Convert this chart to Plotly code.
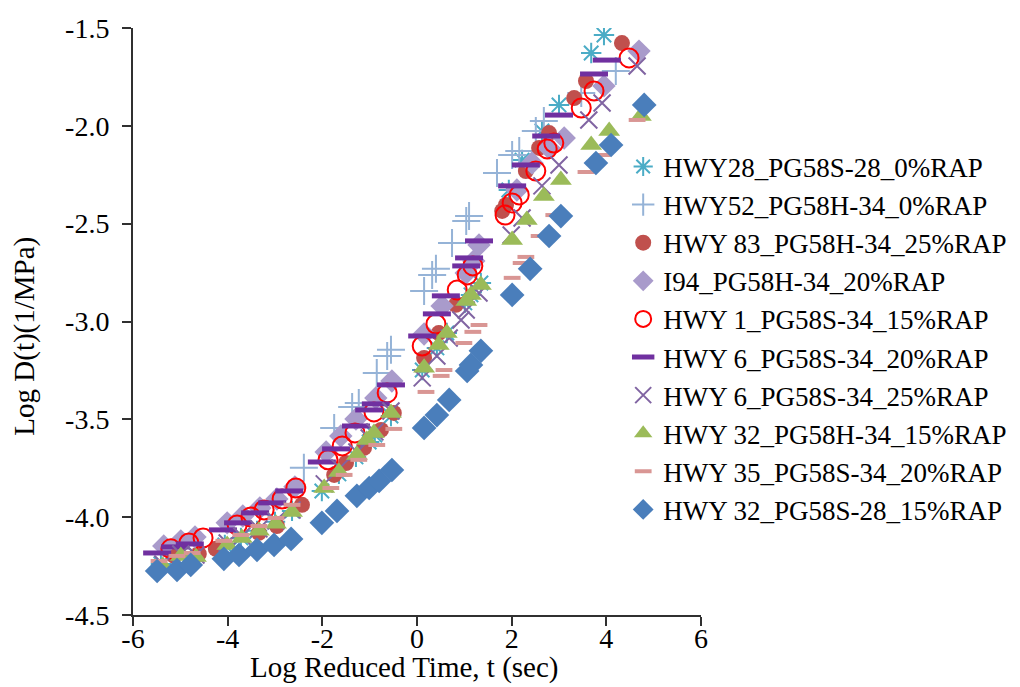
import plotly.graph_objects as go

# ---- data (Log reduced time, Log D(t)) ----
names = [
    "HWY28_PG58S-28_0%RAP",
    "HWY52_PG58H-34_0%RAP",
    "HWY 83_PG58H-34_25%RAP",
    "I94_PG58H-34_20%RAP",
    "HWY 1_PG58S-34_15%RAP",
    "HWY 6_PG58S-34_20%RAP",
    "HWY 6_PG58S-34_25%RAP",
    "HWY 32_PG58H-34_15%RAP",
    "HWY 35_PG58S-34_20%RAP",
    "HWY 32_PG58S-28_15%RAP",
]

hwy28_x = [-5.41, -5.03, -4.69, -4.06, -3.72, -3.38, -3.00, -2.64,
           -2.01, -1.65, -1.29, -1.01, -0.89, -0.55,
           0.11, 0.42, 0.63, 1.01, 1.14, 1.35, 1.94, 2.22, 2.64, 3.00, 3.68, 3.95]
hwy28_y = [-4.239, -4.193, -4.188, -4.142, -4.106, -4.070, -4.024, -3.968,
           -3.866, -3.779, -3.692, -3.616, -3.580, -3.483,
           -3.248, -3.135, -3.059, -2.905, -2.864, -2.803, -2.328, -2.175, -2.026, -1.893, -1.628, -1.536]

hwy52_x = [-2.39,
           -1.75, -1.37, -1.23, -0.85, -0.63, -0.55,
           0.15, 0.32, 0.40, 0.74, 1.04, 1.10, 1.69, 2.01, 2.16, 2.51, 2.68, 3.47, 4.20]
hwy52_y = [-3.748,
           -3.544, -3.437, -3.416, -3.263, -3.176, -3.145,
           -2.844, -2.762, -2.731, -2.599, -2.486, -2.461, -2.241, -2.149, -2.129, -2.026, -1.975, -1.832, -1.720]

hwy83_x = [-5.13, -4.61, -4.25, -3.34, -2.96, -2.43,
           -1.75, -1.50, -1.12, -0.76, -0.49,
           0.15, 0.46, 0.82, 1.80, 1.88, 2.30, 2.58, 2.79, 3.32, 3.57, 4.33]
hwy83_y = [-4.198, -4.188, -4.162, -4.080, -4.045, -3.937,
           -3.784, -3.723, -3.646, -3.554, -3.467,
           -3.186, -3.059, -2.915, -2.435, -2.404, -2.231, -2.113, -2.037, -1.858, -1.771, -1.577]

i94_x = [-5.35, -4.99, -4.69, -4.01, -3.68, -3.32, -2.96, -2.58,
         -1.92, -1.61, -1.29, -0.87, -0.53,
         0.15, 0.53, 1.04, 1.20, 1.31, 2.11, 2.43, 2.79, 3.11, 3.95, 4.69]
i94_y = [-4.147, -4.121, -4.101, -4.029, -3.994, -3.953, -3.907, -3.845,
         -3.667, -3.585, -3.498, -3.391, -3.304,
         -3.064, -2.921, -2.752, -2.691, -2.609, -2.328, -2.190, -2.113, -2.062, -1.796, -1.618]

hwy1_x = [-5.20, -4.82, -4.52, -3.80, -3.51, -3.23, -2.85, -2.56,
          -1.88, -1.58, -1.31, -0.91, -0.63,
          0.11, 0.40, 0.85, 1.06, 1.18, 1.86, 2.01, 2.16, 2.51, 2.75, 2.89, 3.47, 3.74, 4.48]
hwy1_y = [-4.162, -4.132, -4.106, -4.040, -3.999, -3.963, -3.907, -3.851,
          -3.707, -3.636, -3.570, -3.462, -3.365,
          -3.125, -3.013, -2.839, -2.762, -2.716, -2.456, -2.394, -2.353, -2.231, -2.118, -2.088, -1.909, -1.822, -1.653]

hwy6a_x = [-5.49, -5.11, -4.80, -4.10, -3.78, -3.42, -3.06, -2.70,
           -2.01, -1.71, -1.29, -1.01, -0.87, -0.55,
           0.11, 0.42, 0.61, 1.04, 1.10, 1.31, 2.01, 2.30, 2.73, 3.00, 3.74, 4.01]
hwy6a_y = [-4.183, -4.152, -4.137, -4.065, -4.029, -3.978, -3.927, -3.866,
           -3.718, -3.651, -3.534, -3.452, -3.421, -3.324,
           -3.074, -2.961, -2.869, -2.716, -2.675, -2.588, -2.307, -2.200, -2.052, -1.945, -1.735, -1.664]

hwy6b_x = [-5.37, -4.99, -4.67, -4.01, -3.70, -3.34, -2.98, -2.64,
           -1.96, -1.63, -1.27, -1.01, -0.89, -0.55,
           0.11, 0.42, 0.68, 0.93, 1.04, 1.31, 1.99, 2.22, 2.64, 3.00, 3.63, 3.91, 4.65]
hwy6b_y = [-4.239, -4.188, -4.193, -4.132, -4.096, -4.060, -4.019, -3.963,
           -3.830, -3.748, -3.667, -3.595, -3.564, -3.457,
           -3.288, -3.176, -3.084, -2.992, -2.941, -2.854, -2.558, -2.471, -2.307, -2.200, -1.970, -1.883, -1.694]

hwy32h_x = [-5.37, -4.99, -4.67, -4.01, -3.70, -3.34, -2.98, -2.64,
            -1.96, -1.65, -1.27, -1.06, -0.91, -0.55,
            0.15, 0.46, 0.63, 1.04, 1.14, 1.35, 2.01, 2.32, 2.68, 3.04, 3.68, 4.06, 4.73]
hwy32h_y = [-4.249, -4.198, -4.203, -4.142, -4.106, -4.070, -4.034, -3.973,
            -3.851, -3.769, -3.682, -3.605, -3.570, -3.467,
            -3.237, -3.120, -3.059, -2.895, -2.864, -2.813, -2.583, -2.481, -2.358, -2.277, -2.098, -2.026, -1.950]

hwy35_x = [-5.45, -5.07, -4.75, -4.08, -3.72, -3.34, -2.98, -2.64,
           -1.82, -1.54, -1.23, -0.85, -0.49,
           0.19, 0.51, 0.57, 0.99, 1.18, 1.31, 2.01, 2.20, 2.30, 2.58, 2.89, 3.57, 3.91, 4.65]
hwy35_y = [-4.224, -4.198, -4.183, -4.121, -4.091, -4.045, -4.004, -3.937,
           -3.851, -3.784, -3.707, -3.631, -3.549,
           -3.360, -3.278, -3.248, -3.110, -3.053, -3.018, -2.777, -2.701, -2.670, -2.563, -2.456, -2.236, -2.149, -1.970]

hwy32s_x = [-5.49, -5.07, -4.78, -4.08, -3.76, -3.38, -3.02, -2.66,
            -2.01, -1.69, -1.27, -1.01, -0.80, -0.53,
            0.15, 0.42, 0.68, 1.06, 1.14, 1.35, 2.01, 2.39, 2.79, 3.04, 3.78, 4.10, 4.80]
hwy32s_y = [-4.275, -4.270, -4.244, -4.213, -4.193, -4.167, -4.142, -4.111,
            -4.029, -3.968, -3.891, -3.851, -3.815, -3.759,
            -3.544, -3.478, -3.401, -3.253, -3.222, -3.150, -2.864, -2.731, -2.563, -2.461, -2.190, -2.098, -1.893]

x_ticks = [-6, -4, -2, 0, 2, 4, 6]
y_ticks = [-4.5, -4.0, -3.5, -3.0, -2.5, -2.0, -1.5]
x_title = "Log Reduced Time, t (sec)"
y_title = "Log D(t)(1/MPa)"

series_x = [hwy28_x, hwy52_x, hwy83_x, i94_x, hwy1_x, hwy6a_x, hwy6b_x, hwy32h_x, hwy35_x, hwy32s_x]
series_y = [hwy28_y, hwy52_y, hwy83_y, i94_y, hwy1_y, hwy6a_y, hwy6b_y, hwy32h_y, hwy35_y, hwy32s_y]

styles = [
    dict(symbol="asterisk", size=17, color="#4BACC6", line=dict(color="#4BACC6", width=2)),
    dict(symbol="cross-thin", size=20, color="#95B3D7", line=dict(color="#95B3D7", width=2)),
    dict(symbol="circle", size=16, color="#C0504D", line=dict(width=0)),
    dict(symbol="diamond", size=18, color="#A99BCB", line=dict(width=0)),
    dict(symbol="circle-open", size=19, color="#FF0000", line=dict(color="#FF0000", width=2)),
    dict(symbol="line-ew", size=20, color="#7030A0", line=dict(color="#7030A0", width=5)),
    dict(symbol="x-thin", size=17, color="#8064A2", line=dict(color="#8064A2", width=2)),
    dict(symbol="triangle-up", size=19, color="#9BBB59", line=dict(width=0)),
    dict(symbol="line-ew", size=12, color="#D99694", line=dict(color="#D99694", width=4)),
    dict(symbol="diamond", size=19, color="#4A7EBB", line=dict(width=0)),
]

FONT = "Liberation Serif"

fig = go.Figure()
for i, (nm, xs, ys, st) in enumerate(zip(names, series_x, series_y, styles)):
    fig.add_trace(go.Scatter(x=xs, y=ys, mode="markers", name=nm, marker=st,
                             legendgroup=f"g{i}", cliponaxis=True))

fig.update_layout(
    width=1020, height=687,
    margin=dict(l=125, r=327, t=20, b=80, autoexpand=False),
    paper_bgcolor="white", plot_bgcolor="white",
    font=dict(family=FONT, size=24, color="black"),
    legend=dict(x=0.863, y=0.805, xanchor="left", yanchor="top",
                font=dict(family=FONT, size=27, color="black"),
                bgcolor="rgba(0,0,0,0)", traceorder="grouped", tracegroupgap=0,
                itemwidth=30),
    showlegend=True,
    annotations=[
        dict(text=x_title, xref="paper", yref="paper", x=0.477, y=-0.089,
             xanchor="center", yanchor="middle", showarrow=False,
             font=dict(family=FONT, size=29, color="black")),
        dict(text=y_title, xref="paper", yref="paper", x=-0.191, y=0.475, textangle=-90,
             xanchor="center", yanchor="middle", showarrow=False,
             font=dict(family=FONT, size=29, color="black")),
    ],
)
fig.update_xaxes(range=[-6, 6], tickvals=x_ticks, ticktext=[str(v) for v in x_ticks],
                 automargin=False, ticklabelstandoff=-12,
                 showgrid=False, zeroline=False, showline=True, linecolor="#303030", linewidth=2,
                 ticks="outside", ticklen=9, tickwidth=2, tickcolor="#303030",
                 tickfont=dict(family=FONT, size=28, color="black"))
fig.update_yaxes(range=[-4.5, -1.5], tickvals=y_ticks, ticktext=[f"{v:.1f}" for v in y_ticks],
                 automargin=False, ticklabelstandoff=7,
                 showgrid=False, zeroline=False, showline=True, linecolor="#303030", linewidth=2,
                 ticks="outside", ticklen=9, tickwidth=2, tickcolor="#303030",
                 tickfont=dict(family=FONT, size=28, color="black"))

fig.write_html("out.html")
